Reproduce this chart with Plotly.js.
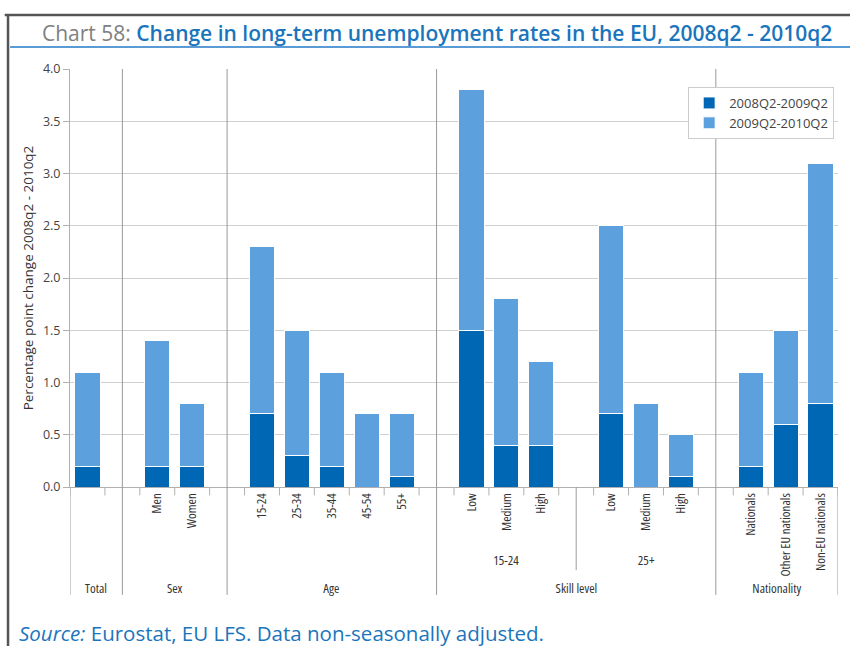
<!DOCTYPE html>
<html>
<head>
<meta charset="utf-8">
<script src="https://cdn.plot.ly/plotly-3.0.1.min.js"></script>
<style>
html,body{margin:0;padding:0;background:#fff;}
#chart{width:850px;height:646px;}
#chart .xtick text{font-stretch:75%;}
#chart text[style*="GrpF"]{font-stretch:75%;}
</style>
</head>
<body>
<div id="chart"></div>
<script>
// Slots along the x axis (empty strings are gaps between groups)
const categories = ['Total','','Men','Women','','15-24','25-34','35-44','45-54','55+','','Low','Medium','High','','Low','Medium','High','','Nationals','Other EU nationals','Non-EU nationals'];
const tickLabels = ['','','Men','Women','','15-24','25-34','35-44','45-54','55+','','Low','Medium','High','','Low','Medium','High','','Nationals','Other EU nationals','Non-EU nationals'];
const seriesNames = ['2008Q2-2009Q2','2009Q2-2010Q2'];
const change0809 = [0.2,null,0.2,0.2,null,0.7,0.3,0.2,0.0,0.1,null,1.5,0.4,0.4,null,0.7,0.0,0.1,null,0.2,0.6,0.8];
const change0910 = [0.9,null,1.2,0.6,null,1.6,1.2,0.9,0.7,0.6,null,2.3,1.4,0.8,null,1.8,0.8,0.4,null,0.9,0.9,2.3];
const groupLabels = ['Total','Sex','Age','Skill level','Nationality'];
const subGroupLabels = ['15-24','25+'];
const yTicks = [0,0.5,1,1.5,2,2.5,3,3.5,4];

const xs = categories.map((c,i)=>i);
const grpFont = "'Open Sans', GrpF";
const dark = '#0067b4', light = '#5ca0de';

const traces = [
  {type:'bar', x:xs, y:change0809, name:seriesNames[0], marker:{color:dark, line:{color:'#ffffff', width:1}}, width:0.72},
  {type:'bar', x:xs, y:change0910, name:seriesNames[1], marker:{color:light, line:{color:'#ffffff', width:1}}, width:0.72}
];

const gridGrey = '#9a9a9a';
const shapes = [];
// outer bounds of label area
[-0.5, 21.5].forEach(b => shapes.push({type:'line', xref:'x', yref:'paper', x0:b, x1:b, y0:-0.258, y1:0, line:{color:gridGrey, width:1}}));
// group separators from top through label area
[1,4,10,18].forEach(b => shapes.push({type:'line', xref:'x', yref:'paper', x0:b, x1:b, y0:-0.258, y1:1, line:{color:gridGrey, width:1}}));
// skill sub-group separator
shapes.push({type:'line', xref:'x', yref:'paper', x0:14, x1:14, y0:-0.199, y1:0, line:{color:gridGrey, width:1}});
// boundary ticks
for (let k=0;k<=22;k++){ const b=k-0.5; shapes.push({type:'line', xref:'x', yref:'paper', x0:b, x1:b, y0:0, y1:-0.02, line:{color:'#b0b0b0', width:1}}); }
// frame
shapes.push({type:'line', xref:'paper', yref:'paper', x0:-0.085, x1:1.02, y0:1.129, y1:1.129, line:{color:'#555555', width:2.5}});
shapes.push({type:'line', xref:'paper', yref:'paper', x0:-0.0807, x1:-0.0807, y0:1.129, y1:-0.4, line:{color:'#555555', width:2.5}});
shapes.push({type:'line', xref:'paper', yref:'paper', x0:-0.078, x1:1.02, y0:1.0526, y1:1.0526, line:{color:'#5b9bd5', width:2}});

const annotations = [];
const groupCenters = [[-0.5,1],[1,4],[4,10],[10,18],[18,21.5]];
groupLabels.forEach((g,i)=>annotations.push({text:g, xref:'x', yref:'paper', x:(groupCenters[i][0]+groupCenters[i][1])/2, y:-0.2416, xanchor:'center', yanchor:'middle', showarrow:false, font:{family:grpFont, size:13, color:'#333333'}}));
const subCenters = [[10,14],[14,18]];
subGroupLabels.forEach((g,i)=>annotations.push({text:g, xref:'x', yref:'paper', x:(subCenters[i][0]+subCenters[i][1])/2, y:-0.174, xanchor:'center', yanchor:'middle', showarrow:false, font:{family:grpFont, size:13, color:'#333333'}}));
annotations.push({text:"<span style='color:#808080;font-weight:400'>Chart 58:</span> Change in long-term unemployment rates in the EU, 2008q2 - 2010q2", xref:'paper', yref:'paper', x:-0.039, y:1.086, xanchor:'left', yanchor:'middle', showarrow:false, font:{family:"'Open Sans', sans-serif", size:21, weight:600, color:'#1a75bc'}});
annotations.push({text:"<i>Source:</i> Eurostat, EU LFS. Data non-seasonally adjusted.", xref:'paper', yref:'paper', x:-0.069, y:-0.349, xanchor:'left', yanchor:'middle', showarrow:false, font:{family:"'Open Sans', sans-serif", size:20.5, color:'#1a75bc'}});

const layout = {
  width:850, height:646,
  margin:{l:70, r:12, t:69, b:159},
  barmode:'stack',
  paper_bgcolor:'#ffffff', plot_bgcolor:'#ffffff',
  showlegend:true,
  legend:{x:0.995, y:0.957, xanchor:'right', yanchor:'top', traceorder:'normal', bgcolor:'#ffffff', bordercolor:'#cccccc', borderwidth:1, font:{family:'Open Sans, sans-serif', size:13, color:'#444444'}, tracegroupgap:0},
  xaxis:{range:[-0.5,21.5], tickmode:'array', tickvals:xs, ticktext:tickLabels, tickangle:-90, ticks:'', showgrid:false, zeroline:false, showline:true, linecolor:'#b0b0b0', tickfont:{family:'Open Sans, sans-serif', size:13, color:'#333333'}, fixedrange:true},
  yaxis:{range:[0,4], tickmode:'array', tickvals:yTicks, ticktext:yTicks.map(v=>v.toFixed(1)), showgrid:true, gridcolor:'#d0d0d0', zeroline:false, showline:true, linecolor:'#b0b0b0', ticks:'outside', ticklen:6, tickcolor:'#b0b0b0', tickfont:{family:'Open Sans, sans-serif', size:12.5, color:'#444444'}, title:{text:'Percentage point change 2008q2 - 2010q2', font:{family:'Open Sans, sans-serif', size:13.5, color:'#333333'}, standoff:6}},
  shapes:shapes,
  annotations:annotations
};

Plotly.newPlot('chart', traces, layout, {displayModeBar:false, staticPlot:true});
</script>
</body>
</html>
